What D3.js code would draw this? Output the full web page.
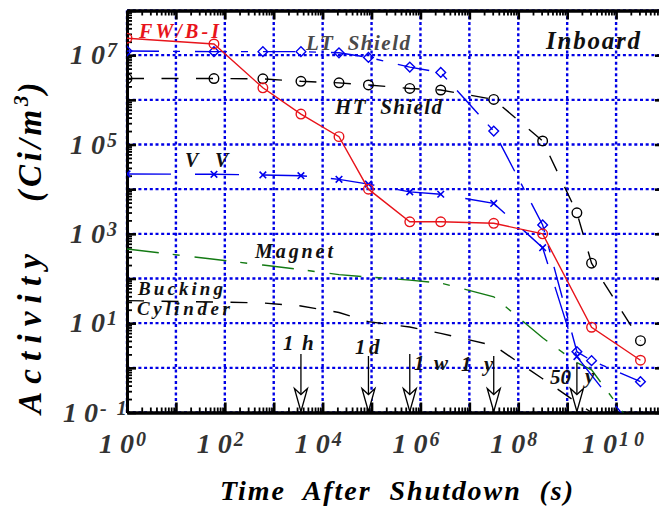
<!DOCTYPE html>
<html><head><meta charset="utf-8">
<script src="https://cdn.jsdelivr.net/npm/d3@7"></script>
<style>
body{margin:0;background:#fff}
svg{display:block}
text{font-family:"Liberation Serif","Times New Roman",serif;font-weight:bold;font-style:italic;white-space:pre}
</style>
</head><body><svg id="c" width="659" height="508"></svg>
<script>
// ---------- data ----------
const times = [1, 60, 600, 3600, 21600, 86400, 6.05e5, 2.6e6, 3.15e7, 3.15e8, 1.58e9, 3.15e9, 3.15e10];
const fwbi     = [2.4e7, 1.78e7, 1.86e6, 4.8e5, 1.5e5, 1.0e4, 1.86e3, 1.86e3, 1.72e3, 1.0e3, null, 8.1, 1.48];
const ltShield = [1.24e7, 1.2e7, 1.2e7, 1.2e7, 1.13e7, 8.9e6, 5.4e6, 4.1e6, 2.0e5, 1.58e3, 2.3, 1.45, 0.49];
const htShield = [3.0e6, 3.0e6, 2.95e6, 2.6e6, 2.4e6, 2.15e6, 1.8e6, 1.66e6, 1.02e6, 1.2e5, 2.95e3, 2.2e2, 4.06];
const vv       = [2.19e4, 2.15e4, 2.08e4, 2.0e4, 1.66e4, 1.3e4, 8.7e3, 7.7e3, 4.8e3, 4.9e2, 1.78, null, 0.028];
const magnet   = [457, 270, 200, 158, 122, 108, 92, 79, 39, 4.7, 1.3, 0.9, 0.03];
const bucking  = [31.9, 29.8, 28.3, 24.3, 17.3, 10.8, 8.2, 5.9, 3.16, 0.57, 0.167, 0.1, 0.02];

const xTickExps = [0, 2, 4, 6, 8, 10];
const xTickSup  = ["0", "2", "4", "6", "8", "1 0"];
const yTickExps = [7, 5, 3, 1, -1];
const yTickSup  = ["7", "5", "3", "1", "-  1"];

const eventTimes  = [3600, 86400, 6.05e5, 3.15e7, 1.58e9];

// ---------- layout ----------
const svg = d3.select("#c");
const L = 127, R = 665, T = 10.5, B = 412.5;
const x = d3.scaleLog().domain([1, 1e11]).range([L, R]);
const y = d3.scaleLog().domain([0.1, 1e8]).range([B, T]);

svg.append("defs").append("clipPath").attr("id", "plot")
  .append("rect").attr("x", L).attr("y", T).attr("width", R - L).attr("height", B - T);

// grid
const gridX = d3.range(0, 11).map(e => Math.pow(10, e));
const gridY = d3.range(-1, 9).map(e => Math.pow(10, e));
const grid = svg.append("g").attr("stroke", "#0000e6").attr("stroke-width", 2.4).attr("stroke-dasharray", "3,2.7");
grid.selectAll(".gx").data(gridX).join("line")
  .attr("x1", d => x(d)).attr("x2", d => x(d)).attr("y1", T).attr("y2", B);
grid.selectAll(".gy").data(gridY).join("line")
  .attr("x1", L).attr("x2", R).attr("y1", d => y(d)).attr("y2", d => y(d));

// axes with inward ticks
const minorX = [], minorY = [];
for (let e = 0; e <= 10; e++) for (let k = 2; k <= 9; k++) minorX.push(k * Math.pow(10, e));
for (let e = -1; e <= 7; e++) for (let k = 2; k <= 9; k++) minorY.push(k * Math.pow(10, e));

function addAxis(gen, tf, vals, size, sw) {
  const g = svg.append("g").attr("transform", tf)
    .call(gen.tickValues(vals).tickSize(size).tickSizeOuter(0).tickFormat(""));
  g.selectAll(".tick line").attr("stroke", "#000").attr("stroke-width", sw);
  g.select(".domain").attr("stroke", "#000").attr("stroke-width", 3);
  return g;
}
addAxis(d3.axisBottom(x), `translate(0,${B})`, minorX, -5, 1.8);
addAxis(d3.axisBottom(x), `translate(0,${B})`, gridX, -10, 2.6);
addAxis(d3.axisTop(x), `translate(0,${T})`, minorX, -5, 1.8);
addAxis(d3.axisTop(x), `translate(0,${T})`, gridX, -9, 2.6);
addAxis(d3.axisLeft(y), `translate(${L},0)`, minorY, -5, 1.8);
addAxis(d3.axisLeft(y), `translate(${L},0)`, gridY, -9, 2.6);
addAxis(d3.axisRight(y), `translate(${R},0)`, gridY, -10, 2.6);

// tick labels
const tl = svg.append("g").attr("fill", "#333");
xTickExps.forEach((e, i) => {
  const t = tl.append("text").attr("x", x(Math.pow(10, e)) - (e === 10 ? 34 : 28)).attr("y", 453).attr("font-size", 28);
  t.append("tspan").text("1 0");
  t.append("tspan").attr("dy", -7).attr("dx", 2).attr("font-size", 20).text(xTickSup[i]);
});
yTickExps.forEach((e, i) => {
  const t = tl.append("text").attr("x", e === -1 ? 63 : 70).attr("y", y(Math.pow(10, e)) + 9).attr("font-size", 28);
  t.append("tspan").text("1 0");
  t.append("tspan").attr("dy", -7).attr("dx", 2).attr("font-size", 20).text(yTickSup[i]);
});

// axis titles
svg.append("text").attr("x", 220).attr("y", 500).attr("font-size", 28)
  .attr("textLength", 353).attr("lengthAdjust", "spacing")
  .text("Time  After  Shutdown  (s)");
const yt = svg.append("text").attr("transform", "translate(41,414) rotate(-90)")
  .attr("font-size", 33);
yt.append("tspan").attr("textLength", 160).attr("lengthAdjust", "spacing").text("Activity");
yt.append("tspan").attr("dx", 44).attr("textLength", 92).attr("lengthAdjust", "spacing").text("(Ci/m");
yt.append("tspan").attr("dy", -13).attr("font-size", 21).text("3");
yt.append("tspan").attr("dy", 13).attr("dx", 2).text(")");

// series
const plot = svg.append("g").attr("clip-path", "url(#plot)");
const series = [
  {v: magnet,   color: "#137a13", dash: "32,14,7,15", marker: null},
  {v: bucking,  color: "#000",    dash: "17,17.5",    marker: null},
  {v: htShield, color: "#000",    dash: "17,17.5",    marker: "circle"},
  {v: ltShield, color: "#0000ee", dash: "32,14,7,15", marker: "diamond"},
  {v: vv,       color: "#0000ee", dash: "44,24",      marker: "x"},
  {v: fwbi,     color: "#e8141b", dash: null,         marker: "circle"}
];
const line = d3.line().defined(d => d[1] != null).x(d => x(d[0])).y(d => y(d[1]));
series.forEach(s => {
  const pts = times.map((t, i) => [t, s.v[i]]).filter(d => d[1] != null);
  plot.append("path").datum(pts).attr("d", line).attr("fill", "none")
    .attr("stroke", s.color).attr("stroke-width", 1.4)
    .attr("stroke-dasharray", s.dash);
  if (s.marker) {
    const sym = s.marker === "circle" ? d3.symbolCircle : s.marker === "diamond" ? d3.symbolDiamond2 : d3.symbolX;
    const size = s.marker === "circle" ? 72 : s.marker === "diamond" ? 60 : 30;
    plot.append("g").selectAll("path").data(pts).join("path")
      .attr("transform", d => `translate(${x(d[0])},${y(d[1])})`)
      .attr("d", d3.symbol().type(sym).size(size))
      .attr("fill", "none").attr("stroke", s.color).attr("stroke-width", s.marker === "x" ? 1.6 : 1.4);
  }
});

// event arrows
const arrowTops = [354, 356, 354, 356, 363];
const ar = svg.append("g").attr("stroke", "#000").attr("stroke-width", 1.3);
eventTimes.forEach((t, i) => {
  const ax = x(t);
  ar.append("line").attr("x1", ax).attr("x2", ax).attr("y1", arrowTops[i]).attr("y2", B - 1);
  ar.append("path").attr("d", `M${ax - 6.5},${B - 24} L${ax},${B - 18} L${ax + 6.5},${B - 24} L${ax},${B - 1} Z`)
    .attr("fill", "#fff");
});

// annotations
const ann = svg.append("g");
function lab(txt, xx, yy, size, color, width) {
  const t = ann.append("text").attr("x", xx).attr("y", yy).attr("font-size", size)
    .attr("fill", color).text(txt);
  if (width) t.attr("textLength", width).attr("lengthAdjust", "spacing");
  return t;
}
lab("FW/B-I", 139, 38, 20, "#e8141b", 80);
lab("LT  Shield", 306, 50, 21, "#4a4a4a", 104);
lab("HT  Shield", 335, 114, 21, "#111", 107);
lab("Inboard", 546, 49, 25, "#111", 94);
lab("V", 185, 167, 20, "#111");
lab("V", 215, 167, 20, "#111");
lab("Magnet", 255, 258, 20, "#111", 78);
lab("Bucking", 138, 295, 19, "#111", 85);
lab("Cylinder", 137, 315, 19, "#111", 93);
lab("1", 283, 350, 21, "#111"); lab("h", 302, 350, 21, "#111");
lab("1", 355, 354, 21, "#111"); lab("d", 369, 354, 21, "#111");
lab("1", 414, 370, 21, "#111"); lab("w", 434, 370, 21, "#111");
lab("1", 461, 371, 21, "#111"); lab("y", 484, 371, 21, "#111");
lab("50", 550, 384, 21, "#111"); lab("y", 585, 383, 21, "#111");
</script>
</body></html>
